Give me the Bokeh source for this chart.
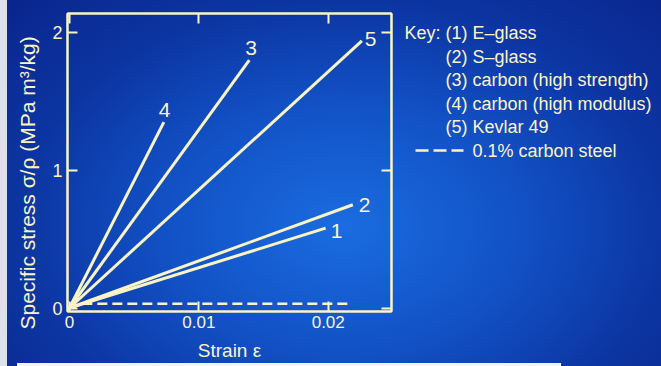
from bokeh.plotting import figure
from bokeh.layouts import row
from bokeh.models import Range1d, FixedTicker, LinearAxis, ColumnDataSource
from bokeh.core.properties import value
from bokeh.embed import file_html
from bokeh.resources import INLINE

# ---- data ----
materials = ["E-glass", "S-glass", "carbon (high strength)", "carbon (high modulus)", "Kevlar 49"]
curve_ids = ["1", "2", "3", "4", "5"]
strain_end = [0.0198, 0.0219, 0.0139, 0.0073, 0.0226]
stress_end = [0.58, 0.75, 1.80, 1.35, 1.94]
steel_strain = [0.0010, 0.0215]
steel_stress = [0.03, 0.03]
x_ticks = [0, 0.01, 0.02]
x_tick_labels = ["0", "0.01", "0.02"]
y_ticks = [0, 1, 2]
y_tick_labels = ["0", "1", "2"]
key_title = "Key:"
key_lines = ["(1) E\u2013glass", "(2) S\u2013glass", "(3) carbon (high strength)",
             "(4) carbon (high modulus)", "(5) Kevlar 49"]
steel_label = "0.1% carbon steel"

# ---- style ----
CREAM = "#fbf5c6"
FONT = "Liberation Sans"
label_dx = [5, 6, -4, -5, 3]
label_dy = [3, 0, -12, -12, -2]
MAIN_W, KEY_W, H = 395, 266, 366
FRAME_TOP, FRAME_BOTTOM = 13, 311

p = figure(width=MAIN_W, height=H, output_backend="svg", toolbar_location=None,
           x_range=Range1d(-0.000147, 0.02489), y_range=Range1d(-0.0254, 2.139),
           min_border_left=67, min_border_right=4, min_border_top=FRAME_TOP,
           min_border_bottom=H - FRAME_BOTTOM)
p.background_fill_color = None
p.border_fill_color = None
p.outline_line_color = CREAM
p.outline_line_width = 2
p.grid.visible = False

for i in range(len(materials)):
    p.line([0, strain_end[i]], [0, stress_end[i]], line_color=CREAM, line_width=3)

p.line(steel_strain, steel_stress, line_color=CREAM, line_width=2.5, line_dash="10 5")

src = ColumnDataSource(dict(x=strain_end, y=stress_end, t=curve_ids, dx=label_dx, dy=label_dy))
p.text("x", "y", text="t", source=src, x_offset="dx", y_offset="dy",
       text_align="left", text_baseline="middle", text_color=CREAM,
       text_font=value(FONT), text_font_size="21px")

def style_axis(ax, show_labels):
    ax.axis_line_color = CREAM
    ax.axis_line_width = 2
    ax.major_tick_line_color = CREAM
    ax.major_tick_line_width = 2
    ax.major_tick_in = 10
    ax.major_tick_out = 0
    ax.minor_tick_line_color = None
    ax.major_label_text_color = CREAM
    ax.major_label_text_font = FONT
    ax.axis_label_text_color = CREAM
    ax.axis_label_text_font = FONT
    ax.axis_label_text_font_style = "normal"
    if not show_labels:
        ax.major_label_text_color = None
        ax.major_label_text_font_size = "1px"
        ax.major_label_standoff = 0

p.xaxis.ticker = FixedTicker(ticks=x_ticks)
p.xaxis.major_label_overrides = dict(zip(x_ticks, x_tick_labels))
p.yaxis.ticker = FixedTicker(ticks=y_ticks)
p.yaxis.major_label_overrides = dict(zip(y_ticks, y_tick_labels))
style_axis(p.xaxis[0], True)
style_axis(p.yaxis[0], True)
p.xaxis.major_label_text_font_size = "17px"
p.yaxis.major_label_text_font_size = "18px"
p.xaxis.major_label_standoff = 4
p.yaxis.major_label_standoff = 5
p.xaxis.axis_label = "Strain \u03b5"
p.yaxis.axis_label = "Specific stress  \u03c3/\u03c1  (MPa m\u00b3/kg)" + "\u00a0" * 5
p.xaxis.axis_label_text_font_size = "19px"
p.yaxis.axis_label_text_font_size = "21px"
p.xaxis.axis_label_standoff = 9
p.yaxis.axis_label_standoff = 10

top = LinearAxis(ticker=FixedTicker(ticks=x_ticks))
style_axis(top, False)
p.add_layout(top, "above")
right = LinearAxis(ticker=FixedTicker(ticks=y_ticks))
style_axis(right, False)
p.add_layout(right, "right")

# ---- key panel (coordinates in page pixels; its frame is aligned with the main frame) ----
k = figure(width=KEY_W, height=H, output_backend="svg", toolbar_location=None,
           x_range=Range1d(MAIN_W, MAIN_W + KEY_W), y_range=Range1d(FRAME_BOTTOM, FRAME_TOP),
           x_axis_location=None, y_axis_location=None,
           min_border=0, min_border_left=0, min_border_right=0,
           min_border_top=FRAME_TOP, min_border_bottom=H - FRAME_BOTTOM)
k.background_fill_color = None
k.border_fill_color = None
k.outline_line_color = None
k.grid.visible = False

key_y = [32.5 + 23.5 * i for i in range(len(key_lines))]
k.text([404], [key_y[0]], text=[key_title], text_baseline="middle", text_color=CREAM,
       text_font=value(FONT), text_font_size="18px")
k.text([445] * len(key_lines), key_y, text=key_lines, text_baseline="middle",
       text_color=CREAM, text_font=value(FONT), text_font_size="18px")
steel_y = 32.5 + 23.5 * 5
k.line([415, 463], [steel_y, steel_y], line_color=CREAM, line_width=2.5, line_dash="13 5")
k.text([472], [steel_y], text=[steel_label], text_baseline="middle", text_color=CREAM,
       text_font=value(FONT), text_font_size="18px")

lay = row(p, k)
lay.styles = {
    "background": (
        "linear-gradient(#f4f4f6, #f4f4f6) 17px 363px / 544px 3px no-repeat, "
        "linear-gradient(to right, #dfe0e8 0px, #dfe0e8 7px, transparent 7px), "
        "radial-gradient(ellipse 75% 95% at 52% 62%, #1a6ce0 0%, #1252c6 35%, #0c35a2 65%, #0a2288 100%)"
    )
}

open("out.html", "w").write(file_html(lay, INLINE))
